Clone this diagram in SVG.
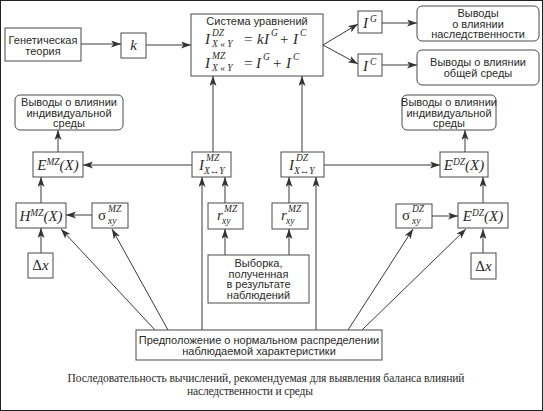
<svg xmlns="http://www.w3.org/2000/svg" width="543" height="411" viewBox="0 0 543 411">
<defs>
<marker id="ah" markerUnits="userSpaceOnUse" markerWidth="11" markerHeight="8" refX="10" refY="3.5" orient="auto">
<path d="M0,0 L10,3.5 L0,7 L2.5,3.5 Z" fill="#333"/>
</marker>
</defs>
<style>
.box{fill:#fff;stroke:#4a4a4a;stroke-width:1}
.t{font-family:"Liberation Sans",Arial,sans-serif;font-size:11px;fill:#2a2a2a;text-anchor:middle}
.m{font-family:"Liberation Serif","Times New Roman",serif;font-style:italic;font-size:15px;fill:#2a2a2a}
.n{font-style:normal}
.s{font-size:9.5px}
.c{fill:none;stroke:#3a3a3a;stroke-width:1;marker-end:url(#ah)}
.cap{font-family:"Liberation Serif","Times New Roman",serif;font-size:11.5px;fill:#2a2a2a;text-anchor:middle}
</style>
<rect x="0" y="0" width="543" height="411" fill="#fff"/>
<rect x="0.5" y="0.5" width="542" height="410" fill="none" stroke="#222" stroke-width="1"/>

<g id="connectors">
<line class="c" x1="81" y1="44" x2="121" y2="44"/>
<line class="c" x1="146" y1="45" x2="191" y2="45"/>
<line class="c" x1="323" y1="45" x2="358" y2="24"/>
<line class="c" x1="323" y1="45" x2="358" y2="64"/>
<line class="c" x1="382" y1="23" x2="417" y2="23"/>
<line class="c" x1="382" y1="65" x2="417" y2="65"/>
<line class="c" x1="213" y1="152" x2="213" y2="76"/>
<line class="c" x1="302" y1="152" x2="302" y2="76"/>
<line class="c" x1="192" y1="165" x2="83" y2="165"/>
<line class="c" x1="324" y1="165" x2="440" y2="165"/>
<line class="c" x1="58" y1="152" x2="58" y2="130"/>
<line class="c" x1="465" y1="152" x2="465" y2="130"/>
<line class="c" x1="41" y1="203" x2="41" y2="177"/>
<line class="c" x1="92" y1="215" x2="66" y2="215"/>
<line class="c" x1="41" y1="253" x2="41" y2="228"/>
<line class="c" x1="225" y1="203" x2="225" y2="177"/>
<line class="c" x1="289" y1="203" x2="289" y2="177"/>
<line class="c" x1="225" y1="255" x2="225" y2="229"/>
<line class="c" x1="289" y1="255" x2="289" y2="229"/>
<line class="c" x1="202" y1="330" x2="202" y2="177"/>
<line class="c" x1="316" y1="330" x2="316" y2="177"/>
<line class="c" x1="155" y1="330" x2="61" y2="229"/>
<line class="c" x1="168" y1="330" x2="112" y2="229"/>
<line class="c" x1="348" y1="330" x2="413" y2="229"/>
<line class="c" x1="362" y1="330" x2="466" y2="229"/>
<line class="c" x1="432" y1="216" x2="458" y2="216"/>
<line class="c" x1="483" y1="253" x2="483" y2="229"/>
<line class="c" x1="483" y1="203" x2="483" y2="177"/>
</g>

<g id="genetic">
<rect class="box" x="5" y="28" width="76" height="33"/>
<text class="t" x="43" y="43.5">Генетическая</text>
<text class="t" x="43" y="54.5">теория</text>
</g>

<g id="k">
<rect class="box" x="121" y="33" width="25" height="25"/>
<text class="m" x="133.5" y="50" text-anchor="middle">k</text>
</g>

<g id="equations">
<rect class="box" x="191" y="14" width="132" height="62"/>
<text class="t" x="257" y="25">Система уравнений</text>
<text class="m" x="205" y="44">I</text>
<text class="m s" x="212" y="36">DZ</text>
<text class="m s" x="212" y="47">X « Y</text>
<text class="m n" x="244" y="44">=</text>
<text class="m" x="257" y="44">k</text>
<text class="m" x="264" y="44">I</text>
<text class="m s" x="271" y="36">G</text>
<text class="m n" x="280" y="44">+</text>
<text class="m" x="293" y="44">I</text>
<text class="m s" x="300" y="36">C</text>
<text class="m" x="205" y="68">I</text>
<text class="m s" x="212" y="59">MZ</text>
<text class="m s" x="212" y="71">X « Y</text>
<text class="m n" x="244" y="68">=</text>
<text class="m" x="256" y="68">I</text>
<text class="m s" x="263" y="60">G</text>
<text class="m n" x="273" y="68">+</text>
<text class="m" x="286" y="68">I</text>
<text class="m s" x="293" y="60">C</text>
</g>

<g id="IG">
<rect class="box" x="358" y="11" width="24" height="22"/>
<text class="m" x="363" y="28">I</text>
<text class="m s" x="370" y="22">G</text>
</g>

<g id="IC">
<rect class="box" x="358" y="54" width="24" height="22"/>
<text class="m" x="363" y="71">I</text>
<text class="m s" x="370" y="65">C</text>
</g>

<g id="out-heredity">
<rect class="box" x="417" y="6" width="122" height="35" rx="5"/>
<text class="t" x="478" y="17">Выводы</text>
<text class="t" x="478" y="27.5">о влиянии</text>
<text class="t" x="478" y="38">наследственности</text>
</g>

<g id="out-common">
<rect class="box" x="417" y="50" width="122" height="35" rx="5"/>
<text class="t" x="478" y="66">Выводы о влиянии</text>
<text class="t" x="478" y="76.5">общей среды</text>
</g>

<g id="out-indiv-left">
<rect class="box" x="15" y="95" width="108" height="35" rx="5"/>
<text class="t" x="69" y="106">Выводы о влиянии</text>
<text class="t" x="69" y="116.5">индивидуальной</text>
<text class="t" x="69" y="127">среды</text>
</g>

<g id="out-indiv-right">
<rect class="box" x="402" y="95" width="94" height="35" rx="5"/>
<text class="t" x="449" y="106">Выводы о влиянии</text>
<text class="t" x="449" y="116.5">индивидуальной</text>
<text class="t" x="449" y="127">среды</text>
</g>

<g id="EMZ">
<rect class="box" x="33" y="152" width="50" height="25"/>
<text class="m" x="58" y="170" text-anchor="middle">E<tspan class="s" dy="-5">MZ</tspan><tspan dy="5">(X)</tspan></text>
</g>

<g id="IMZ">
<rect class="box" x="192" y="152" width="39" height="25"/>
<text class="m" x="199" y="170">I</text>
<text class="m s" x="206" y="161">MZ</text>
<text class="m s" x="204" y="174">X↔Y</text>
</g>

<g id="IDZ">
<rect class="box" x="281" y="152" width="43" height="25"/>
<text class="m" x="289" y="170">I</text>
<text class="m s" x="296" y="161">DZ</text>
<text class="m s" x="294" y="174">X↔Y</text>
</g>

<g id="EDZ-upper">
<rect class="box" x="440" y="152" width="48" height="25"/>
<text class="m" x="464" y="170" text-anchor="middle">E<tspan class="s" dy="-5">DZ</tspan><tspan dy="5">(X)</tspan></text>
</g>

<g id="HMZ">
<rect class="box" x="16" y="203" width="50" height="25"/>
<text class="m" x="41" y="221" text-anchor="middle">H<tspan class="s" dy="-5">MZ</tspan><tspan dy="5">(X)</tspan></text>
</g>

<g id="sigmaMZ">
<rect class="box" x="92" y="203" width="36" height="25"/>
<text class="m n" x="98" y="220">σ</text>
<text class="m s" x="108" y="212">MZ</text>
<text class="m s" x="108" y="224">xy</text>
</g>

<g id="r1">
<rect class="box" x="208" y="203" width="35" height="26"/>
<text class="m" x="217" y="220">r</text>
<text class="m s" x="224" y="212">MZ</text>
<text class="m s" x="222" y="224">xy</text>
</g>

<g id="r2">
<rect class="box" x="272" y="203" width="36" height="26"/>
<text class="m" x="281" y="220">r</text>
<text class="m s" x="288" y="212">MZ</text>
<text class="m s" x="286" y="224">xy</text>
</g>

<g id="sigmaDZ">
<rect class="box" x="396" y="204" width="36" height="24"/>
<text class="m n" x="402" y="220">σ</text>
<text class="m s" x="412" y="212">DZ</text>
<text class="m s" x="412" y="224">xy</text>
</g>

<g id="EDZ-lower">
<rect class="box" x="458" y="203" width="50" height="25"/>
<text class="m" x="483" y="221" text-anchor="middle">E<tspan class="s" dy="-5">DZ</tspan><tspan dy="5">(X)</tspan></text>
</g>

<g id="dx-left">
<rect class="box" x="28" y="253" width="25" height="25"/>
<text class="m" x="40.5" y="270" text-anchor="middle"><tspan class="n">Δ</tspan>x</text>
</g>

<g id="dx-right">
<rect class="box" x="471" y="253" width="25" height="26"/>
<text class="m" x="483.5" y="271" text-anchor="middle"><tspan class="n">Δ</tspan>x</text>
</g>

<g id="sample">
<rect class="box" x="208" y="255" width="101" height="48"/>
<text class="t" x="258.5" y="267">Выборка,</text>
<text class="t" x="258.5" y="277.5">полученная</text>
<text class="t" x="258.5" y="288">в результате</text>
<text class="t" x="258.5" y="298.5">наблюдений</text>
</g>

<g id="assumption">
<rect class="box" x="136" y="330" width="246" height="30"/>
<text class="t" x="259" y="344">Предположение о нормальном распределении</text>
<text class="t" x="259" y="355">наблюдаемой характеристики</text>
</g>

<g id="caption">
<text class="cap" x="266" y="382" textLength="397" lengthAdjust="spacing">Последовательность вычислений, рекомендуемая для выявления баланса влияний</text>
<text class="cap" x="250" y="395" textLength="126" lengthAdjust="spacing">наследственности и среды</text>
</g>
</svg>
